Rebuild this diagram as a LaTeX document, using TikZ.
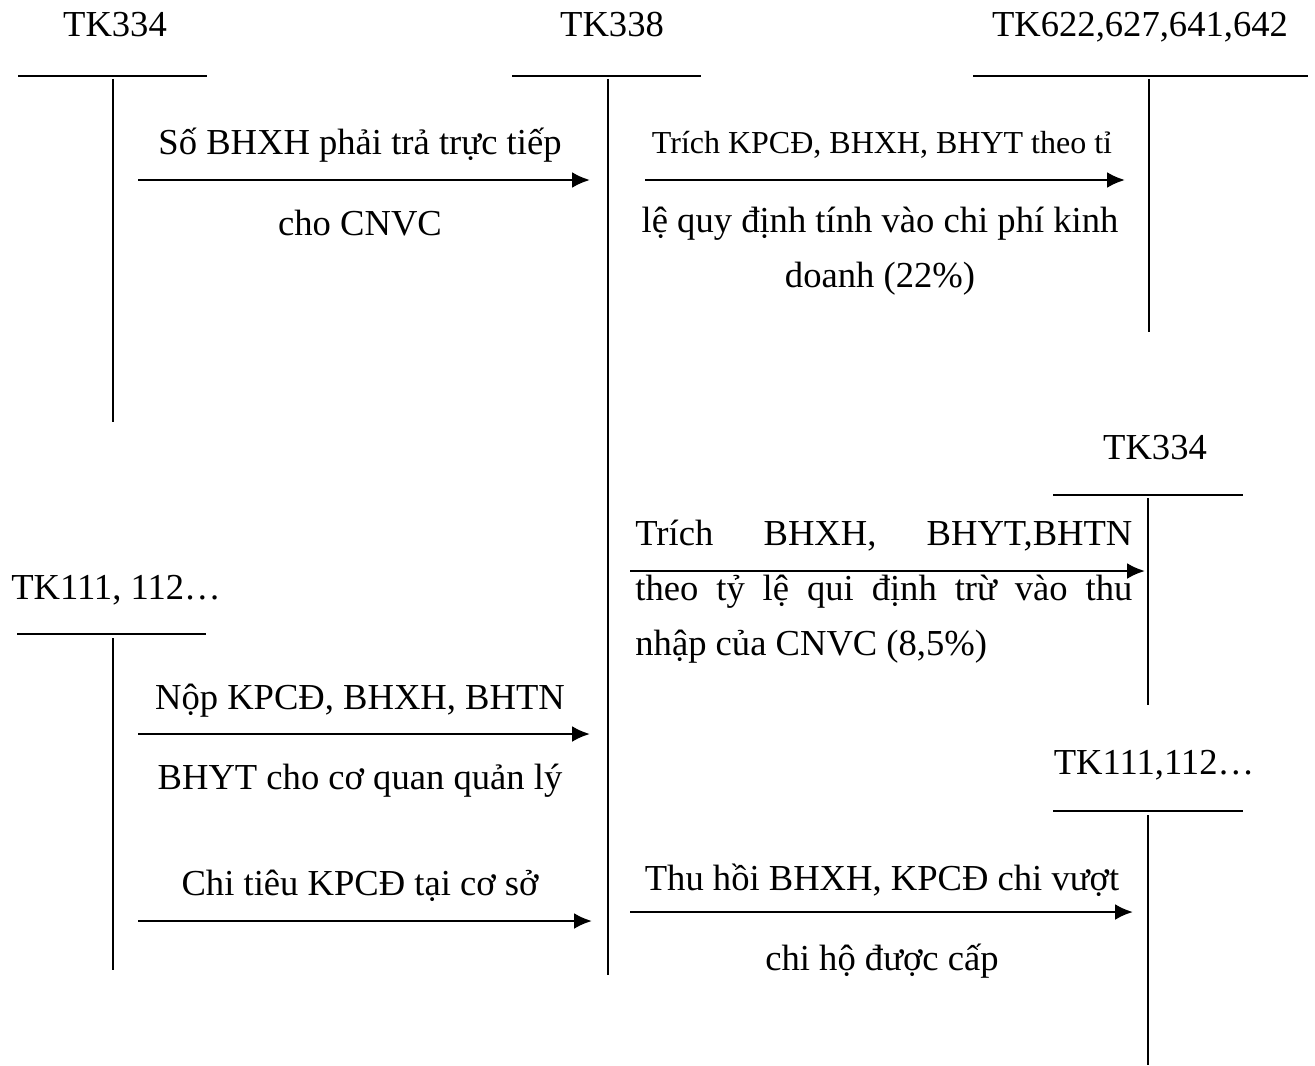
\documentclass[tikz,border=0pt]{standalone}
\usepackage{fontspec}
\setmainfont{Liberation Serif}
\usetikzlibrary{arrows.meta}

\begin{document}
\begin{tikzpicture}[x=0.5pt, y=-0.5pt,
    acct/.style={font=\fontsize{18.3}{22}\selectfont, anchor=base, inner sep=0pt},
    txt/.style={font=\fontsize{18.3}{27.5}\selectfont, anchor=base, inner sep=0pt},
    smalltxt/.style={font=\fontsize{16}{20}\selectfont, anchor=base, inner sep=0pt},
    tline/.style={line width=1pt},
    flow/.style={line width=1.3pt, -{Latex[length=9pt,width=8pt]}}]
    \useasboundingbox (0,0) rectangle (1315,1065);

    % T-accounts: name, horizontal bar, vertical bar
    \node[acct] (tk334a) at (115,37) {TK334};
    \draw[tline] (18,76) -- (207,76);
    \draw[tline] (113,79) -- (113,422);

    \node[acct] (tk338) at (612,37) {TK338};
    \draw[tline] (512,76) -- (701,76);
    \draw[tline] (608,79) -- (608,975);

    \node[acct] (tk622) at (1140,37) {TK622,627,641,642};
    \draw[tline] (973,76) -- (1308,76);
    \draw[tline] (1149,79) -- (1149,332);

    \node[acct] (tk334b) at (1155,459) {TK334};
    \draw[tline] (1053,495) -- (1243,495);
    \draw[tline] (1148,498) -- (1148,705);

    \node[acct] (tk111a) at (116,599) {TK111, 112\dots};
    \draw[tline] (17,634) -- (206,634);
    \draw[tline] (113,638) -- (113,970);

    \node[acct] (tk111b) at (1154,774) {TK111,112\dots};
    \draw[tline] (1053,811) -- (1243,811);
    \draw[tline] (1148,815) -- (1148,1065);

    % End points of the arrows
    \coordinate (a1s) at (138,180);
    \coordinate (a1e) at (590,180);
    \coordinate (a2s) at (645,180);
    \coordinate (a2e) at (1125,180);
    \coordinate (a3s) at (630,571);
    \coordinate (a3e) at (1145,571);
    \coordinate (a4s) at (138,734);
    \coordinate (a4e) at (590,734);
    \coordinate (a5s) at (138,921);
    \coordinate (a5e) at (592,921);
    \coordinate (a6s) at (630,912);
    \coordinate (a6e) at (1133,912);

    % Arrows
    \draw[flow] (a1s) -- (a1e);
    \draw[flow] (a2s) -- (a2e);
    \draw[flow] (a3s) -- (a3e);
    \draw[flow] (a4s) -- (a4e);
    \draw[flow] (a5s) -- (a5e);
    \draw[flow] (a6s) -- (a6e);

    % Labels
    \node[txt] (a1top) at (360,155) {Số BHXH phải trả trực tiếp};
    \node[txt] (a1bot) at (360,235) {cho CNVC};

    \node[smalltxt] (a2top) at (882,153) {Trích KPCĐ, BHXH, BHYT theo tỉ};
    \node[txt] (a2bot) at (880,232) {lệ quy định tính vào chi phí kinh};
    \node[txt] (a2end) at (880,287) {doanh (22\%)};

    \node[txt, anchor=base west] (a3l1) at (635,545) {\makebox[248.5pt][s]{Trích BHXH, BHYT,BHTN}};
    \node[txt, anchor=base west] (a3l2) at (635,600) {\makebox[248.5pt][s]{theo tỷ lệ qui định trừ vào thu}};
    \node[txt, anchor=base west] (a3l3) at (635,655) {nhập của CNVC (8,5\%)};

    \node[txt] (a4top) at (360,709) {Nộp KPCĐ, BHXH, BHTN};
    \node[txt] (a4bot) at (360,789) {BHYT cho cơ quan quản lý};

    \node[txt] (a5top) at (360,895) {Chi tiêu KPCĐ tại cơ sở};

    \node[txt] (a6top) at (882,890) {Thu hồi BHXH, KPCĐ chi vượt};
    \node[txt] (a6bot) at (882,970) {chi hộ được cấp};
\end{tikzpicture}
\end{document}
